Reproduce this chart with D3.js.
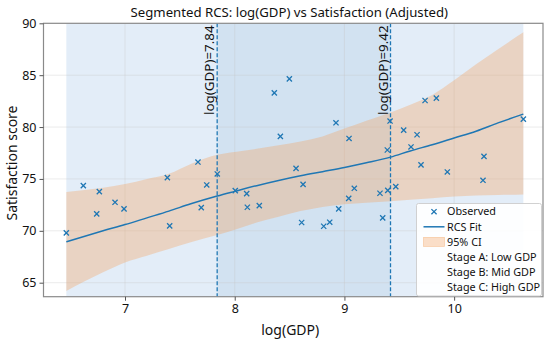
<!DOCTYPE html>
<html>
<head>
<meta charset="utf-8">
<script src="https://cdn.jsdelivr.net/npm/d3@7"></script>
<style>
  body { margin: 0; background: #fff; }
  svg text { font-family: "Noto Sans", "Open Sans", sans-serif; fill: #111; }
</style>
</head>
<body>
<svg id="chart" width="550" height="343"></svg>
<script>
// observed points
var gdp = [6.465, 6.62, 6.742, 6.766, 6.909, 6.991, 7.386, 7.407, 7.665, 7.695,
  7.745, 7.841, 8.005, 8.109, 8.115, 8.224, 8.361, 8.416, 8.498, 8.559,
  8.61, 8.623, 8.811, 8.866, 8.923, 8.948, 9.039, 9.042, 9.09, 9.324,
  9.349, 9.391, 9.395, 9.416, 9.468, 9.54, 9.607, 9.662, 9.698, 9.735,
  9.838, 9.938, 10.263, 10.272, 10.631];
var satisfaction = [69.8, 74.36, 71.63, 73.78, 72.75, 72.11, 75.13, 70.48, 76.63, 72.24,
  74.42, 75.48, 73.87, 73.59, 72.27, 72.43, 83.3, 79.1, 84.64, 76.02,
  70.8, 74.48, 70.44, 70.83, 80.41, 72.11, 73.13, 78.9, 74.1, 73.62,
  71.25, 77.79, 73.9, 80.58, 74.26, 79.71, 78.08, 79.26, 76.35, 82.56,
  82.79, 75.67, 74.87, 77.17, 80.77];

// fitted curve and its band
var fitGdp = [6.465, 6.8, 7.0, 7.2, 7.4, 7.6, 7.84, 8.0, 8.2, 8.4, 8.6,
  8.8, 9.0, 9.2, 9.42, 9.6, 9.8, 10.0, 10.2, 10.4, 10.631];
var fitMean = [68.94, 70.0, 70.6, 71.25, 71.9, 72.6, 73.35, 73.8, 74.35, 74.85, 75.3,
  75.7, 76.1, 76.55, 77.1, 77.7, 78.3, 78.95, 79.6, 80.4, 81.25];
var ciLower = [64.2, 66.0, 66.95, 67.6, 68.25, 68.9, 69.6, 70.1, 70.8, 71.35, 71.9,
  72.3, 72.55, 72.7, 72.85, 73.0, 73.15, 73.3, 73.4, 73.45, 73.5];
var ciUpper = [73.75, 74.15, 74.5, 75.0, 75.5, 76.45, 77.33, 77.6, 77.9, 78.25, 78.6,
  79.1, 79.85, 80.6, 81.4, 82.15, 83.1, 84.5, 86.05, 87.5, 89.13];

var knots = [7.84, 9.42];
var stageNames = ["Stage A: Low GDP", "Stage B: Mid GDP", "Stage C: High GDP"];
var xTicks = [7, 8, 9, 10];
var yTicks = [65, 70, 75, 80, 85, 90];

var blue = "#1f77b4";
var stageColors = ["#e3edf8", "#d2e2f1", "#e3edf8"];
var bandColor = "#f4a460";

var svg = d3.select("#chart");
var m = { left: 43.5, right: 543, top: 23.3, bottom: 296.7 };

var x = d3.scaleLinear().domain([6.257, 10.81]).range([m.left, m.right]);
var y = d3.scaleLinear().domain([63.65, 90]).range([m.bottom, m.top]);

svg.append("clipPath").attr("id", "plotclip")
  .append("rect")
  .attr("x", m.left).attr("y", m.top)
  .attr("width", m.right - m.left).attr("height", m.bottom - m.top);

var plot = svg.append("g").attr("clip-path", "url(#plotclip)");

// stage spans
var edges = [d3.min(gdp)].concat(knots).concat([d3.max(gdp)]);
plot.selectAll("rect.stage")
  .data(stageNames)
  .enter().append("rect")
  .attr("class", "stage")
  .attr("x", function(d, i) { return x(edges[i]); })
  .attr("width", function(d, i) { return x(edges[i + 1]) - x(edges[i]); })
  .attr("y", m.top)
  .attr("height", m.bottom - m.top)
  .attr("fill", function(d, i) { return stageColors[i]; });

// grid
plot.append("g").selectAll("line")
  .data(xTicks).enter().append("line")
  .attr("x1", function(d) { return x(d); }).attr("x2", function(d) { return x(d); })
  .attr("y1", m.top).attr("y2", m.bottom)
  .attr("stroke", "#c8c8c8").attr("stroke-opacity", 0.45).attr("stroke-width", 0.8);
plot.append("g").selectAll("line")
  .data(yTicks).enter().append("line")
  .attr("y1", function(d) { return y(d); }).attr("y2", function(d) { return y(d); })
  .attr("x1", m.left).attr("x2", m.right)
  .attr("stroke", "#c8c8c8").attr("stroke-opacity", 0.45).attr("stroke-width", 0.8);

// confidence band
var band = d3.area()
  .x(function(d, i) { return x(fitGdp[i]); })
  .y0(function(d, i) { return y(ciLower[i]); })
  .y1(function(d, i) { return y(ciUpper[i]); })
  .curve(d3.curveMonotoneX);
plot.append("path")
  .datum(fitGdp)
  .attr("d", band)
  .attr("fill", bandColor)
  .attr("fill-opacity", 0.35);

// knots
plot.selectAll("line.knot")
  .data(knots).enter().append("line")
  .attr("class", "knot")
  .attr("x1", function(d) { return x(d); }).attr("x2", function(d) { return x(d); })
  .attr("y1", m.top).attr("y2", m.bottom)
  .attr("stroke", blue).attr("stroke-width", 1.3)
  .attr("stroke-dasharray", "4,2");

svg.selectAll("text.knot")
  .data(knots).enter().append("text")
  .attr("class", "knot")
  .attr("transform", function(d) {
    return "translate(" + (x(d) - 3) + "," + (m.top + 2) + ") rotate(-90)";
  })
  .attr("text-anchor", "end")
  .style("font-size", "13.4px")
  .text(function(d) { return "log(GDP)=" + d.toFixed(2); });

// fit line
var line = d3.line()
  .x(function(d, i) { return x(fitGdp[i]); })
  .y(function(d) { return y(d); })
  .curve(d3.curveMonotoneX);
plot.append("path")
  .datum(fitMean)
  .attr("d", line)
  .attr("fill", "none")
  .attr("stroke", blue)
  .attr("stroke-width", 1.5);

// observed
var s = 2.6;
var cross = "M" + (-s) + "," + (-s) + "L" + s + "," + s + "M" + (-s) + "," + s + "L" + s + "," + (-s);
plot.append("g").selectAll("path")
  .data(gdp).enter().append("path")
  .attr("transform", function(d, i) { return "translate(" + x(d) + "," + y(satisfaction[i]) + ")"; })
  .attr("d", cross)
  .attr("stroke", blue)
  .attr("stroke-width", 1.3)
  .attr("fill", "none");

// frame
svg.append("rect")
  .attr("x", m.left).attr("y", m.top)
  .attr("width", m.right - m.left).attr("height", m.bottom - m.top)
  .attr("fill", "none").attr("stroke", "#8a8a8a").attr("stroke-width", 1.2);

// axes
var xAxis = svg.append("g")
  .attr("transform", "translate(0," + m.bottom + ")")
  .call(d3.axisBottom(x).tickValues(xTicks).tickSize(4).tickPadding(3).tickFormat(d3.format("d")));
var yAxis = svg.append("g")
  .attr("transform", "translate(" + m.left + ",0)")
  .call(d3.axisLeft(y).tickValues(yTicks).tickSize(4).tickPadding(3).tickFormat(d3.format("d")));
[xAxis, yAxis].forEach(function(a) {
  a.select(".domain").remove();
  a.selectAll(".tick line").attr("stroke", "#555");
  a.selectAll(".tick text").style("font-size", "12.5px").attr("fill", "#111");
});

svg.append("text")
  .attr("x", (m.left + m.right) / 2 - 4).attr("y", 17)
  .attr("text-anchor", "middle")
  .style("font-size", "13.2px")
  .text("Segmented RCS: log(GDP) vs Satisfaction (Adjusted)");
svg.append("text")
  .attr("x", (m.left + m.right) / 2 - 3).attr("y", 335)
  .attr("text-anchor", "middle")
  .style("font-size", "14px")
  .text("log(GDP)");
svg.append("text")
  .attr("transform", "translate(17," + ((m.top + m.bottom) / 2 + 3) + ") rotate(-90)")
  .attr("text-anchor", "middle")
  .style("font-size", "14px")
  .text("Satisfaction score");

// legend
var lg = svg.append("g").attr("transform", "translate(416.5,203.5)");
lg.append("rect")
  .attr("width", 125).attr("height", 92.5)
  .attr("rx", 2)
  .attr("fill", "#fff").attr("fill-opacity", 0.9)
  .attr("stroke", "#cccccc").attr("stroke-width", 0.9);
var items = ["Observed", "RCS Fit", "95% CI"].concat(stageNames);
lg.selectAll("text")
  .data(items).enter().append("text")
  .attr("x", 30.5)
  .attr("y", function(d, i) { return 8.2 + i * 15.1; })
  .attr("dy", "0.35em")
  .style("font-size", "10.8px")
  .text(function(d) { return d; });
lg.append("path")
  .attr("transform", "translate(17.5,8.2)")
  .attr("d", cross)
  .attr("stroke", blue).attr("stroke-width", 1.3);
lg.append("line")
  .attr("x1", 7).attr("x2", 28).attr("y1", 8.2 + 15.1).attr("y2", 8.2 + 15.1)
  .attr("stroke", blue).attr("stroke-width", 1.5);
lg.append("rect")
  .attr("x", 7).attr("y", 8.2 + 30.2 - 4.5).attr("width", 21).attr("height", 9)
  .attr("fill", bandColor).attr("fill-opacity", 0.35)
  .attr("stroke", bandColor).attr("stroke-opacity", 0.45).attr("stroke-width", 0.8);
</script>
</body>
</html>
